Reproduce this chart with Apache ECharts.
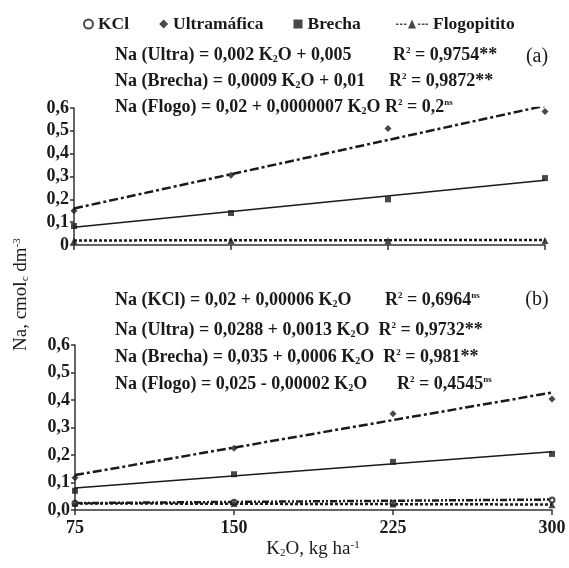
<!DOCTYPE html>
<html>
<head>
    <meta charset="UTF-8">
    <title>Na x K2O</title>
    <script src="https://cdn.jsdelivr.net/npm/echarts@6/dist/echarts.min.js"></script>
    <style type="text/css">
        html, body, #main {
            height: 100%;
            width: 100%;
            margin: 0;
            padding: 0;
            background: #fff;
        }
    </style>
</head>
<body>
<div id="main"></div>
<script type="text/javascript">
    // doses de K2O
    var doses = [75, 150, 225, 300];

    // (a) pontos observados
    var ultraA = [0.15, 0.305, 0.51, 0.585];
    var brechaA = [0.083, 0.14, 0.20, 0.293];
    var flogoA = [0.018, 0.02, 0.019, 0.02];
    // (a) retas ajustadas (inicio e fim, em 75 e 300)
    var ultraFitA = [0.16, 0.61];
    var brechaFitA = [0.078, 0.284];
    var flogoFitA = [0.02, 0.022];

    // (b) pontos observados
    var kclB = [0.025, 0.028, 0.025, 0.036];
    var ultraB = [0.117, 0.225, 0.35, 0.404];
    var brechaB = [0.07, 0.13, 0.175, 0.204];
    var flogoB = [0.025, 0.024, 0.022, 0.019];
    // (b) retas ajustadas
    var kclFitB = [0.025, 0.038];
    var ultraFitB = [0.127, 0.427];
    var brechaFitB = [0.08, 0.212];
    var flogoFitB = [0.024, 0.02];

    var serif = '"Liberation Serif", "Times New Roman", serif';
    var ink = '#1a1a1a';

    function pts(vals) {
        return vals.map(function (v, i) { return [doses[i], v]; });
    }
    function fit(ends) {
        return [[doses[0], ends[0]], [doses[doses.length - 1], ends[1]]];
    }

    var rich = {
        b: {fontFamily: serif, fontWeight: 'bold', fontSize: 18, color: ink},
        sub: {fontFamily: serif, fontWeight: 'bold', fontSize: 10, color: ink, verticalAlign: 'bottom', padding: [7, 0, 0, 0]},
        sup: {fontFamily: serif, fontWeight: 'bold', fontSize: 9, color: ink, verticalAlign: 'top', padding: [0, 0, 7, 0]},
        n: {fontFamily: serif, fontSize: 19, color: ink},
        ns: {fontFamily: serif, fontSize: 11, color: ink, verticalAlign: 'bottom', padding: [8, 0, 0, 0]},
        ns2: {fontFamily: serif, fontSize: 11, color: ink, verticalAlign: 'top', padding: [0, 0, 8, 0]}
    };

    function txt(x, y, t) {
        return {
            type: 'text', x: x, y: y,
            style: {text: t, rich: rich, fill: ink, verticalAlign: 'middle', font: 'bold 18px ' + serif}
        };
    }

    var graphics = [
        txt(115, 55, '{b|Na (Ultra) = 0,002 K}{sub|2}{b|O + 0,005}'),
        txt(393, 55, '{b|R}{sup|2}{b| = 0,9754**}'),
        txt(115, 81, '{b|Na (Brecha) = 0,0009 K}{sub|2}{b|O + 0,01}'),
        txt(389, 81, '{b|R}{sup|2}{b| = 0,9872**}'),
        txt(115, 107, '{b|Na (Flogo) = 0,02 + 0,0000007 K}{sub|2}{b|O R}{sup|2}{b| = 0,2}{sup|ns}'),
        txt(115, 300, '{b|Na (KCl) = 0,02 + 0,00006 K}{sub|2}{b|O}'),
        txt(385, 300, '{b|R}{sup|2}{b| = 0,6964}{sup|ns}'),
        txt(115, 330, '{b|Na (Ultra) = 0,0288 + 0,0013 K}{sub|2}{b|O  R}{sup|2}{b| = 0,9732**}'),
        txt(115, 357, '{b|Na (Brecha) = 0,035 + 0,0006 K}{sub|2}{b|O  R}{sup|2}{b| = 0,981**}'),
        txt(115, 384, '{b|Na (Flogo) = 0,025 - 0,00002 K}{sub|2}{b|O}'),
        txt(397, 384, '{b|R}{sup|2}{b| = 0,4545}{sup|ns}'),
        {type: 'text', x: 537, y: 57, style: {text: '(a)', font: '20px ' + serif, fill: ink, align: 'center', verticalAlign: 'middle'}},
        {type: 'text', x: 537, y: 300, style: {text: '(b)', font: '20px ' + serif, fill: ink, align: 'center', verticalAlign: 'middle'}},
        {
            type: 'text', x: 313, y: 549,
            style: {text: '{n|K}{ns|2}{n|O, kg ha}{ns2|-1}', rich: rich, fill: ink, align: 'center', verticalAlign: 'middle'}
        },
        {
            type: 'text', x: 12, y: 351, rotation: Math.PI / 2,
            style: {text: '{n|Na, cmol}{ns|c}{n| dm}{ns2|-3}', rich: rich, fill: ink}
        }
    ];

    function yAxisOf(grid, zeroLabel) {
        return {
            type: 'value', gridIndex: grid, min: 0, max: 0.6, interval: 0.1,
            splitLine: {show: false},
            axisLine: {show: true, lineStyle: {color: '#333', width: 1.5}},
            axisTick: {show: true, length: 4, lineStyle: {color: '#333', width: 1.5}},
            axisLabel: {
                fontFamily: serif, fontWeight: 'bold', fontSize: 18, color: ink, margin: 5,
                formatter: function (v) {
                    if (v === 0) return zeroLabel;
                    return v.toFixed(1).replace('.', ',');
                }
            }
        };
    }
    function xAxisOf(grid, showLabel) {
        return {
            type: 'value', gridIndex: grid, min: 75, max: 300, interval: 75,
            splitLine: {show: false},
            axisLine: {lineStyle: {color: '#333', width: 1.5}},
            axisTick: {show: true, length: 5, lineStyle: {color: '#333', width: 1.5}},
            axisLabel: {
                show: showLabel, fontFamily: serif, fontWeight: 'bold', fontSize: 18, color: ink, margin: 9
            }
        };
    }

    function scatter(name, grid, vals, symbol, size) {
        return {
            name: name, type: 'scatter', xAxisIndex: grid, yAxisIndex: grid,
            data: pts(vals), symbol: symbol, symbolSize: size,
            itemStyle: {color: ink, borderColor: ink, borderWidth: symbol === 'emptyCircle' ? 2 : 0},
            z: 4
        };
    }
    function trend(grid, ends, dash, width) {
        return {
            type: 'line', xAxisIndex: grid, yAxisIndex: grid,
            data: fit(ends), showSymbol: false, silent: true,
            lineStyle: {color: ink, width: width, type: dash}
        };
    }

    var legendFont = {fontFamily: serif, fontWeight: 'bold', fontSize: 17.5, color: ink};

    var option = {
        backgroundColor: '#fff',
        animation: false,
        legend: [
            {
                left: 78, top: 10, itemWidth: 9, itemHeight: 9, itemGap: 30,
                textStyle: legendFont,
                data: [
                    {name: 'KCl', icon: 'emptyCircle', itemStyle: {borderWidth: 1.5}},
                    {name: 'Ultramáfica', icon: 'diamond'},
                    {name: 'Brecha', icon: 'rect'}
                ]
            },
            {
                left: 391, top: 10, itemWidth: 32, itemHeight: 9,
                textStyle: legendFont,
                data: [{
                    name: 'Flogopitito',
                    icon: 'path://M0,4h2.5v1.5h-2.5z M4,4h2.5v1.5h-2.5z M8,4h2.5v1.5h-2.5z M16,0L20,9L12,9Z M22,4h2.5v1.5h-2.5z M26,4h2.5v1.5h-2.5z M29.5,4h2.5v1.5h-2.5z'
                }]
            }
        ],
        grid: [
            {left: 74, top: 108, width: 471, height: 137},
            {left: 75, top: 345, width: 477, height: 165}
        ],
        xAxis: [xAxisOf(0, false), xAxisOf(1, true)],
        yAxis: [yAxisOf(0, '0'), yAxisOf(1, '0,0')],
        series: [
            scatter('Ultramáfica', 0, ultraA, 'diamond', 7),
            scatter('Brecha', 0, brechaA, 'rect', 6),
            scatter('Flogopitito', 0, flogoA, 'triangle', 7),
            trend(0, ultraFitA, [9, 3, 3, 3], 2.5),
            trend(0, brechaFitA, 'solid', 1.5),
            trend(0, flogoFitA, [3, 2], 2.5),

            scatter('KCl', 1, kclB, 'emptyCircle', 5),
            scatter('Ultramáfica', 1, ultraB, 'diamond', 7),
            scatter('Brecha', 1, brechaB, 'rect', 6),
            scatter('Flogopitito', 1, flogoB, 'triangle', 7),
            trend(1, kclFitB, [7, 2, 2, 2, 2, 2], 2.5),
            trend(1, ultraFitB, [9, 3, 3, 3], 2.5),
            trend(1, brechaFitB, 'solid', 1.5),
            trend(1, flogoFitB, [3, 2], 2.5)
        ],
        graphic: graphics
    };

    var mycharts = echarts.init(document.getElementById('main'));
    mycharts.setOption(option);
</script>
</body>
</html>
